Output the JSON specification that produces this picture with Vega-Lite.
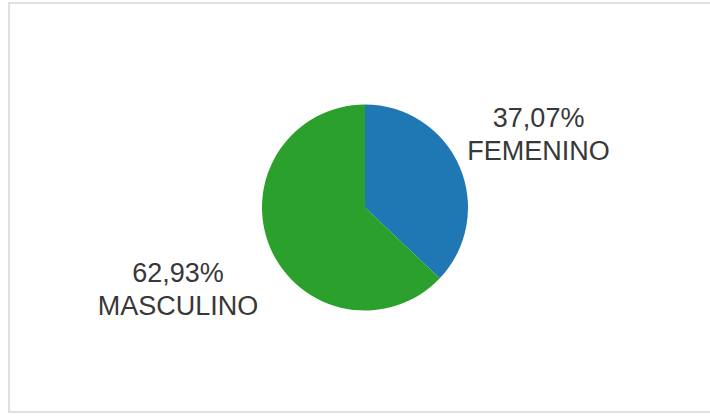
{
  "$schema": "https://vega.github.io/schema/vega-lite/v6.json",
  "width": 712,
  "height": 409,
  "autosize": "none",
  "padding": {"left": 9, "top": 3, "right": -11, "bottom": 4},
  "background": "white",
  "view": {"stroke": "#d6d6d6", "strokeWidth": 1.5},
  "data": {"values": [
    {"sexo": "FEMENINO", "pct": 37.07},
    {"sexo": "MASCULINO", "pct": 62.93}
  ]},
  "transform": [
    {"calculate": "replace(format(datum.pct, '.2f'), '.', ',') + '%\\n' + datum.sexo", "as": "label"}
  ],
  "encoding": {
    "theta": {"field": "pct", "type": "quantitative", "stack": true}
  },
  "layer": [
    {
      "mark": {"type": "arc", "outerRadius": 103},
      "encoding": {
        "color": {"field": "sexo", "type": "nominal", "scale": {"domain": ["FEMENINO", "MASCULINO"], "range": ["#1f77b4", "#2ca02c"]}, "legend": null}
      }
    },
    {
      "mark": {"type": "text", "font": "Liberation Sans", "fontSize": 27, "lineHeight": 33, "lineBreak": "\n", "color": "#383838", "align": "center", "baseline": "middle", "dy": -14},
      "encoding": {
        "text": {"field": "label", "type": "nominal"},
        "radius": {"field": "pct", "type": "quantitative", "scale": {"domain": [37.07, 62.93], "range": [189, 203.5], "zero": false}}
      }
    }
  ]
}
